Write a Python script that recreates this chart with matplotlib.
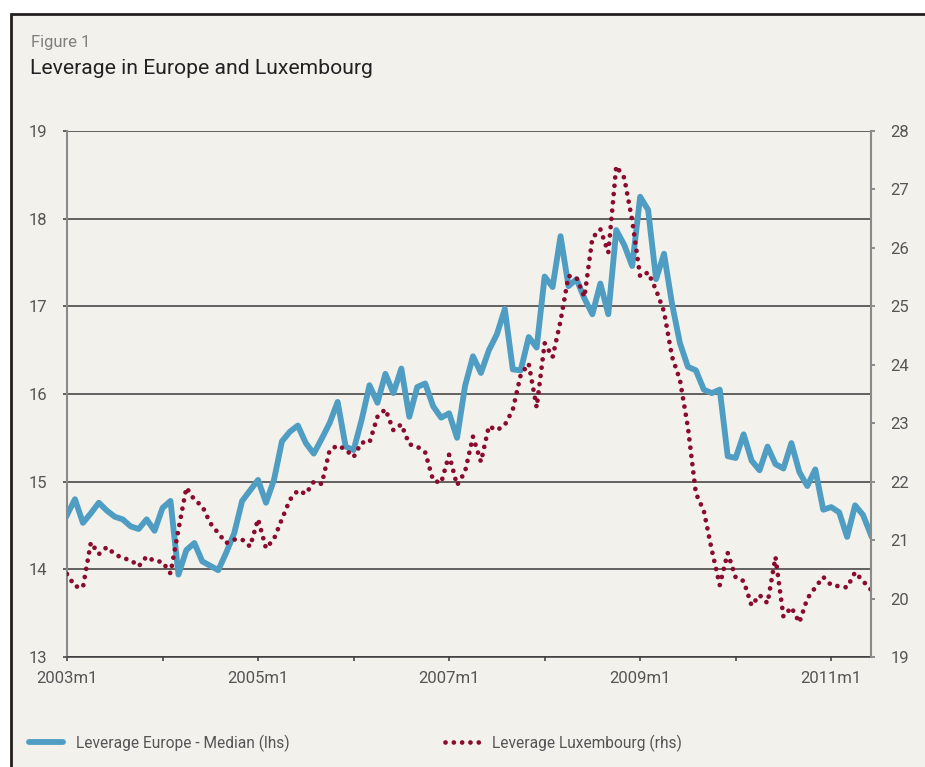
import numpy as np
import matplotlib
matplotlib.use('Agg')
import matplotlib.pyplot as plt
from matplotlib.patches import Rectangle
from matplotlib.lines import Line2D

plt.rcParams['font.family'] = ['Roboto', 'DejaVu Sans']

# Monthly data, 2003m1 .. 2011m6
europe = [14.62, 14.80, 14.53, 14.64, 14.76, 14.67, 14.60, 14.57, 14.49, 14.46,
          14.57, 14.44, 14.70, 14.78, 13.94, 14.22, 14.30, 14.09, 14.04, 13.99,
          14.19, 14.41, 14.78, 14.90, 15.02, 14.76, 15.02, 15.46, 15.57, 15.64,
          15.44, 15.32, 15.49, 15.67, 15.91, 15.40, 15.36, 15.70, 16.10, 15.90,
          16.23, 16.01, 16.29, 15.74, 16.08, 16.12, 15.86, 15.73, 15.78, 15.50,
          16.09, 16.43, 16.24, 16.50, 16.68, 16.97, 16.28, 16.27, 16.65, 16.53,
          17.34, 17.22, 17.80, 17.23, 17.31, 17.09, 16.91, 17.26, 16.91, 17.87,
          17.70, 17.46, 18.25, 18.10, 17.31, 17.60, 17.03, 16.58, 16.31, 16.27,
          16.05, 16.01, 16.05, 15.29, 15.27, 15.54, 15.24, 15.13, 15.40, 15.20,
          15.15, 15.44, 15.11, 14.95, 15.14, 14.68, 14.71, 14.65, 14.37, 14.73,
          14.62, 14.39]

luxembourg = [20.42, 20.21, 20.19, 20.96, 20.76, 20.88, 20.76, 20.69, 20.66, 20.55,
              20.72, 20.64, 20.63, 20.43, 21.18, 21.90, 21.69, 21.58, 21.29, 21.12,
              20.95, 21.01, 21.01, 20.89, 21.36, 20.86, 21.02, 21.36, 21.69, 21.85,
              21.79, 22.00, 21.96, 22.54, 22.62, 22.55, 22.42, 22.67, 22.67, 23.11,
              23.24, 22.88, 22.98, 22.64, 22.60, 22.50, 22.02, 21.98, 22.46, 21.94,
              22.17, 22.77, 22.34, 22.95, 22.88, 22.97, 23.23, 23.83, 24.02, 23.27,
              24.37, 24.13, 24.75, 25.52, 25.49, 25.16, 26.17, 26.32, 25.92, 27.40,
              27.20, 26.47, 25.51, 25.58, 25.28, 24.91, 24.14, 23.74, 22.93, 21.80,
              21.50, 20.83, 20.23, 20.78, 20.36, 20.30, 19.88, 20.06, 19.92, 20.71,
              19.69, 19.85, 19.59, 20.00, 20.19, 20.37, 20.23, 20.21, 20.19, 20.45,
              20.30, 20.15]

x_ticks = [0, 12, 24, 36, 48, 60, 72, 84, 96]
x_labels = ['2003m1', '', '2005m1', '', '2007m1', '', '2009m1', '', '2011m1']
left_ticks = [13, 14, 15, 16, 17, 18, 19]
right_ticks = [19, 20, 21, 22, 23, 24, 25, 26, 27, 28]

label_europe = 'Leverage Europe - Median (lhs)'
label_lux = 'Leverage Luxembourg (rhs)'

blue = '#4f9dc2'
red = '#8a0b2c'
grid_c = '#3a3a3a'
text_c = '#555555'
lux_style = (0, (0.01, 1.75))

W, H = 925, 767
fig = plt.figure(figsize=(W / 100, H / 100), dpi=100)
fig.patch.set_facecolor('white')

# beige panel with dark border on top and left
panel = Rectangle((11 / W, -0.05), 1.0, 1.05 - 13.5 / H, transform=fig.transFigure,
                  facecolor='#f2f1eb', edgecolor='#231f20', lw=2, zorder=-10)
fig.patches.append(panel)

ax = fig.add_axes([67 / W, 1 - 657 / H, (871 - 67) / W, (657 - 131) / H])
ax.set_facecolor('none')
months = np.arange(len(europe))

ax.plot(months, europe, color=blue, lw=4.2, solid_joinstyle='round', zorder=3)
ax.set_xlim(0, len(europe) - 1)
ax.set_ylim(13, 19)
ax.set_yticks(left_ticks)
ax.set_xticks(x_ticks)
ax.set_xticklabels(x_labels)
ax.yaxis.grid(True, color=grid_c, lw=1.1)
ax.set_axisbelow(True)

ax2 = ax.twinx()
ax2.plot(months, luxembourg, color=red, lw=3.4, linestyle=lux_style,
         dash_capstyle='round')
ax2.set_ylim(19, 28)
ax2.set_yticks(right_ticks)

for a in (ax, ax2):
    a.spines['top'].set_visible(False)
ax.spines['right'].set_visible(False)
ax2.spines['left'].set_visible(False)
ax2.spines['bottom'].set_visible(False)
ax.spines['left'].set_color('#8a8a8a')
ax.spines['left'].set_linewidth(1.5)
ax2.spines['right'].set_color('#8a8a8a')
ax2.spines['right'].set_linewidth(1.5)
ax.spines['bottom'].set_color(grid_c)
ax.spines['bottom'].set_linewidth(1.1)

ax.tick_params(axis='y', direction='out', length=3, width=1.1, color=grid_c,
               pad=11, labelsize=12, labelcolor=text_c)
ax.tick_params(axis='x', direction='out', length=3, width=1.1, color=grid_c,
               pad=7, labelsize=12, labelcolor=text_c)
ax2.tick_params(axis='y', direction='out', length=3, width=1.1, color='#707070',
                pad=11, labelsize=12, labelcolor=text_c)

fig.text(31 / W, 1 - 46.5 / H, 'Figure 1', fontsize=12, color='#808080',
         va='baseline', ha='left')
fig.text(30 / W, 1 - 73.5 / H, 'Leverage in Europe and Luxembourg', fontsize=15.2,
         color='#222222', va='baseline', ha='left')

# legend, two entries placed along the bottom
h1 = Line2D([], [], color=blue, lw=4.2, solid_capstyle='round')
h2 = Line2D([], [], color=red, lw=3.4, linestyle=lux_style, dash_capstyle='round')
leg_kw = dict(frameon=False, loc='center left', fontsize=11.2, borderpad=0,
              borderaxespad=0, handlelength=2.2, handletextpad=0.85,
              labelcolor=text_c)
fig.legend([h1], [label_europe], bbox_to_anchor=(29 / W, 1 - 743 / H), **leg_kw)
fig.legend([h2], [label_lux], bbox_to_anchor=(445 / W, 1 - 743 / H), **leg_kw)

fig.savefig('out.png', dpi=100, facecolor=fig.get_facecolor())
